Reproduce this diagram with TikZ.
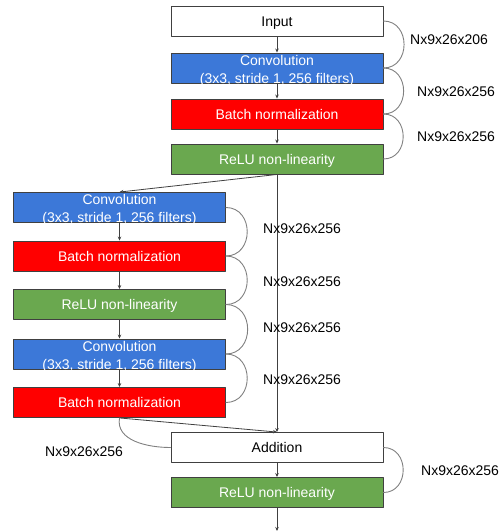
\documentclass[tikz,border=0pt]{standalone}
\usepackage{fontspec}
\setmainfont{Liberation Sans}
\usetikzlibrary{arrows.meta}
\definecolor{convblue}{HTML}{3C78D8}
\definecolor{bnred}{HTML}{FF0000}
\definecolor{relugreen}{HTML}{6AA84F}
\definecolor{edgegray}{HTML}{404040}
\definecolor{arcgray}{HTML}{808080}
\newcommand{\convtext}{\raisebox{-6pt}[0pt][0pt]{\begin{tabular}{@{}c@{}}Convolution\\(3x3, stride 1, 256 filters)\end{tabular}}}
\tikzset{
  every picture/.style={line join=round, line cap=round, >={Stealth[length=4pt,width=3.5pt]}},
  layer/.style={draw=edgegray, line width=0.9pt, minimum width=212pt, minimum height=30pt, inner sep=0pt, font=\fontsize{14}{18}\selectfont},
  oneline/.style={layer, text height=11pt, text depth=1pt},
  plain/.style={oneline, fill=white, text=black},
  conv/.style={layer, fill=convblue, text=white},
  bnorm/.style={oneline, fill=bnred, text=white},
  relu/.style={oneline, fill=relugreen, text=white},
  flow/.style={->, draw=edgegray, line width=0.8pt},
  dimarc/.style={draw=arcgray, line width=0.9pt},
  dims/.style={anchor=west, inner sep=0pt, font=\fontsize{14}{17}\selectfont},
}

\begin{document}
\begin{tikzpicture}[x=1pt, y=-1pt]
\useasboundingbox (0,0) rectangle (500,531);
\node[plain] (input) at (277,21) {Input};
\node[conv] (conv1) at (277,68) {\convtext};
\node[bnorm] (bn1) at (277,114) {Batch normalization};
\node[relu] (relu1) at (277,159) {ReLU non-linearity};
\node[conv] (conv2) at (119.5,207.5) {\convtext};
\node[bnorm] (bn2) at (119.5,256) {Batch normalization};
\node[relu] (relu2) at (119.5,304.5) {ReLU non-linearity};
\node[conv] (conv3) at (119.5,354) {\convtext};
\node[bnorm] (bn3) at (119.5,402.5) {Batch normalization};
\node[plain] (add) at (277,447.5) {Addition};
\node[relu] (relu3) at (277,492.5) {ReLU non-linearity};
\coordinate (out) at (277,531);

\draw[flow] (input) -- (conv1);
\draw[flow] (conv1) -- (bn1);
\draw[flow] (bn1) -- (relu1);
\draw[flow] (relu1.south) -- (conv2.north);
\draw[flow] (conv2) -- (bn2);
\draw[flow] (bn2) -- (relu2);
\draw[flow] (relu2) -- (conv3);
\draw[flow] (conv3) -- (bn3);
\draw[flow] (relu1.south) -- (add.north);
\draw[flow] (bn3.south) -- (add.north);
\draw[flow] (add) -- (relu3);
\draw[flow] (relu3) -- (out);

\draw[dimarc] (input.east) to[out=0,in=0,looseness=1.5] (conv1.east);
\draw[dimarc] (conv1.east) to[out=0,in=0,looseness=1.5] (bn1.east);
\draw[dimarc] (bn1.east) to[out=0,in=0,looseness=1.5] (relu1.east);
\draw[dimarc] (conv2.east) to[out=0,in=0,looseness=1.5] (bn2.east);
\draw[dimarc] (bn2.east) to[out=0,in=0,looseness=1.5] (relu2.east);
\draw[dimarc] (relu2.east) to[out=0,in=0,looseness=1.5] (conv3.east);
\draw[dimarc] (conv3.east) to[out=0,in=0,looseness=1.5] (bn3.east);
\draw[dimarc] (bn3.south) to[out=-100,in=180] (add.west);
\draw[dimarc] (add.east) to[out=0,in=0,looseness=1.5] (relu3.east);

\node[dims] (d1) at (410,40) {Nx9x26x206};
\node[dims] (d2) at (417,92) {Nx9x26x256};
\node[dims] (d3) at (417,137) {Nx9x26x256};
\node[dims] (d4) at (263,229) {Nx9x26x256};
\node[dims] (d5) at (263,282) {Nx9x26x256};
\node[dims] (d6) at (263,328) {Nx9x26x256};
\node[dims] (d7) at (263,380) {Nx9x26x256};
\node[dims] (d8) at (45,452) {Nx9x26x256};
\node[dims] (d9) at (421,471) {Nx9x26x256};
\end{tikzpicture}
\end{document}
